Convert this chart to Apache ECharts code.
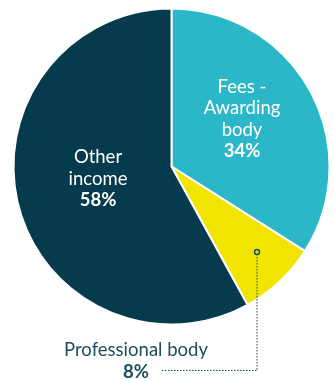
<!DOCTYPE html>
<html><head><meta charset="utf-8">
<script src="https://cdn.jsdelivr.net/npm/echarts@6/dist/echarts.min.js"></script>
<style>html,body{margin:0;padding:0;background:#fff}#c{width:334px;height:380px}</style>
</head><body><div id="c"></div>
<script>
const categories = ['Fees -\nAwarding\nbody', 'Professional body', 'Other\nincome'];
const values = [34, 8, 58];
const colors = ['#2cb7c8', '#f0e400', '#063b4e'];
const labelColors = ['#ffffff', '#1d4e5f', '#ffffff'];

const chart = echarts.init(document.getElementById('c'));
const data = categories.map((c, i) => ({
  name: c, value: values[i],
  itemStyle: { color: colors[i] },
  label: { color: labelColors[i] }
}));
chart.setOption({
  animation: false,
  series: [{
    type: 'pie',
    center: [171.5, 166.5],
    radius: 158,
    startAngle: 90,
    clockwise: true,
    itemStyle: { borderColor: '#fff', borderWidth: 2 },
    label: {
      position: 'inside',
      fontFamily: 'Lato',
      fontSize: 18.5,
      lineHeight: 21.5,
      align: 'center',
      formatter: p => p.name + '\n{b|' + p.value + '%}',
      rich: { b: { fontWeight: 'bold', fontSize: 18.5, fontFamily: 'Lato', lineHeight: 21.5 } }
    },
    labelLine: { show: false },
    labelLayout: function (p) {
      if (p.dataIndex === 0) return { x: 242, y: 119, align: 'center', verticalAlign: 'middle' };
      if (p.dataIndex === 2) return { x: 98, y: 179, align: 'center', verticalAlign: 'middle' };
      return { x: 136, y: 361, align: 'center', verticalAlign: 'middle' };
    },
    data: data
  }],
  graphic: [{
    type: 'polyline', shape: { points: [[257, 254], [257, 370.5], [162, 370.5]] },
    style: { fill: 'none', stroke: '#1d4e5f', lineWidth: 1, lineDash: [1.5, 1.5] }, z: 100
  }, {
    type: 'circle', shape: { cx: 257, cy: 252, r: 2.5 },
    style: { fill: 'none', stroke: '#1d4e5f', lineWidth: 1.5 }, z: 100
  }]
});
</script></body></html>
